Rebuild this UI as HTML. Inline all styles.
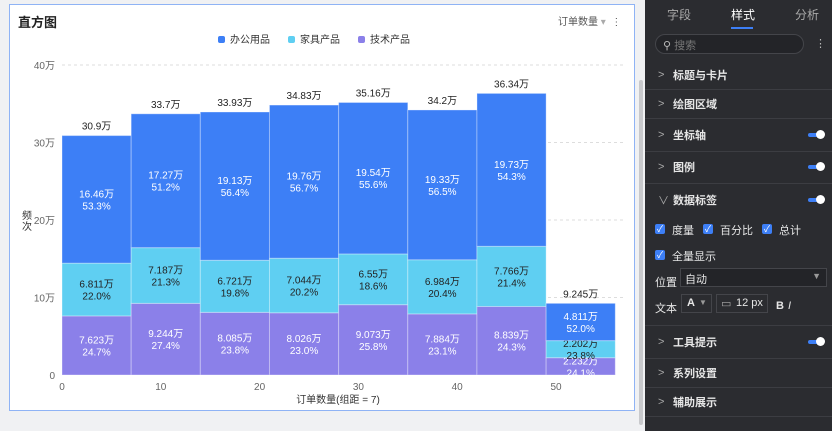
<!DOCTYPE html>
<html><head><meta charset="utf-8"><style>
body{margin:0;width:832px;height:431px;overflow:hidden;background:#f0f1f3;font-family:"Liberation Sans","Noto Sans CJK SC",sans-serif;position:relative}
#card{position:absolute;left:9px;top:4px;width:626px;height:407px;background:#fff;border:1px solid #8fb3f5;box-sizing:border-box}
#panel{position:absolute;left:645px;top:0;width:187px;height:431px;background:#2b2c30;color:#e6e6e6;font-size:11px}
.row{position:absolute;left:0;width:187px;border-bottom:1px solid #3c3d42;height:30px}
.row span.t{position:absolute;left:28px;top:50%;transform:translateY(-50%);font-weight:bold}
.row span.c{position:absolute;left:13px;top:50%;transform:translateY(-50%);color:#aaa}
.tg{position:absolute;right:10px;top:50%;margin-top:-2px;width:14px;height:4px;border-radius:2px;background:#3d7ff6}
.tg:after{content:"";position:absolute;right:-3px;top:-3px;width:9px;height:9px;border-radius:50%;background:#fff}
.cb{position:absolute;width:10px;height:10px;background:#3d7ff6;border-radius:2px;color:#fff;font-size:9px;line-height:10px;text-align:center}
.lbl{position:absolute;font-size:11px}
</style></head><body>
<div id="card">
<div style="position:absolute;left:8px;top:7px;font-size:13px;font-weight:bold;color:#222">直方图</div>
<div style="position:absolute;left:548px;top:8px;font-size:10px;color:#555">订单数量 <span style="color:#aaa">▾</span> &nbsp;⋮</div>
</div>
<svg id="chart" width="832" height="431" style="position:absolute;left:0;top:0"></svg>
<div style="position:absolute;left:639px;top:80px;width:4px;height:345px;background:#c8c9cc;border-radius:2px"></div>
<div id="panel">
<div style="position:absolute;left:22px;top:6px;font-size:12px;color:#aaa">字段</div>
<div style="position:absolute;left:86px;top:6px;font-size:12px;color:#fff">样式</div>
<div style="position:absolute;left:86px;top:27px;width:22px;height:2px;background:#3d7ff6"></div>
<div style="position:absolute;left:150px;top:6px;font-size:12px;color:#aaa">分析</div>
<div style="position:absolute;left:10px;top:34px;width:149px;height:20px;border:1px solid #44454a;border-radius:10px;background:#232428;box-sizing:border-box"><span style="position:absolute;left:7px;top:2px;color:#bbb">⚲ <span style="color:#777">搜索</span></span></div>
<div style="position:absolute;left:170px;top:37px;color:#bbb">⋮</div>
<div class="row" style="top:60px;height:29px"><span class="c">&gt;</span><span class="t">标题与卡片</span></div>
<div class="row" style="top:89px;height:29px"><span class="c">&gt;</span><span class="t">绘图区域</span></div>
<div class="row" style="top:118px;height:33px"><span class="c">&gt;</span><span class="t">坐标轴</span><div class="tg"></div></div>
<div class="row" style="top:151px;height:32px"><span class="c">&gt;</span><span class="t">图例</span><div class="tg"></div></div>
<div class="row" style="top:183px;height:142px"><span class="c" style="top:17px">∨</span><span class="t" style="top:17px">数据标签</span><div class="tg" style="top:17px"></div>
<div class="cb" style="left:10px;top:41px">✓</div><span class="lbl" style="left:27px;top:39px">度量</span>
<div class="cb" style="left:58px;top:41px">✓</div><span class="lbl" style="left:75px;top:39px">百分比</span>
<div class="cb" style="left:117px;top:41px">✓</div><span class="lbl" style="left:134px;top:39px">总计</span>
<div class="cb" style="left:10px;top:67px">✓</div><span class="lbl" style="left:27px;top:65px">全量显示</span>
<span class="lbl" style="left:10px;top:91px">位置</span>
<div style="position:absolute;left:35px;top:85px;width:147px;height:19px;border:1px solid #44454a;background:#232428;box-sizing:border-box"><span style="position:absolute;left:4px;top:2px">自动</span><span style="position:absolute;right:5px;top:2px;color:#999;font-size:9px">▼</span></div>
<span class="lbl" style="left:10px;top:117px">文本</span>
<div style="position:absolute;left:36px;top:111px;width:31px;height:19px;border:1px solid #44454a;box-sizing:border-box"><span style="position:absolute;left:5px;top:2px;font-weight:bold">A</span><span style="position:absolute;left:17px;top:3px;font-size:8px;color:#999">▼</span></div>
<div style="position:absolute;left:71px;top:111px;width:52px;height:19px;border:1px solid #44454a;box-sizing:border-box"><span style="position:absolute;left:4px;top:2px;color:#aaa">▭</span><span style="position:absolute;left:19px;top:2px">12 px</span></div>
<span class="lbl" style="left:131px;top:117px;font-weight:bold">B</span>
<span class="lbl" style="left:143px;top:117px;font-style:italic">I</span>
</div>
<div class="row" style="top:325px;height:33px"><span class="c">&gt;</span><span class="t">工具提示</span><div class="tg"></div></div>
<div class="row" style="top:358px;height:29px"><span class="c">&gt;</span><span class="t">系列设置</span></div>
<div class="row" style="top:387px;height:29px"><span class="c">&gt;</span><span class="t">辅助展示</span></div>
</div>
<script>
const binStarts=[0,7,14,21,28,35,42,49];
const binWidth=7;
const office=[16.46,17.27,19.13,19.76,19.54,19.33,19.73,4.811];
const furniture=[6.811,7.187,6.721,7.044,6.55,6.984,7.766,2.202];
const tech=[7.623,9.244,8.085,8.026,9.073,7.884,8.839,2.232];
const totals=[30.9,33.7,33.93,34.83,35.16,34.2,36.34,9.245];
const yTicks=[0,10,20,30,40];
const xTicks=[0,10,20,30,40,50];
const seriesNames=['办公用品','家具产品','技术产品'];
const svg=document.getElementById('chart');const NS='http://www.w3.org/2000/svg';
const X=v=>62+v*9.88;const Y=v=>375-v*7.75;
function el(t,a,txt){const e=document.createElementNS(NS,t);for(const k in a)e.setAttribute(k,a[k]);if(txt!=null)e.textContent=txt;svg.appendChild(e);return e;}
yTicks.forEach(v=>{
 if(v>0){const g=el('line',{x1:62,x2:626,y1:Y(v),y2:Y(v),stroke:'#ddd','stroke-dasharray':'3,3'});
 
 }
 const t=el('text',{x:55,y:Y(v)+4,'text-anchor':'end','font-size':10,fill:'#666'},v===0?'0':v+'万');
 
 
});
xTicks.forEach(v=>{const t=el('text',{x:X(v),y:390,'text-anchor':'middle','font-size':10,fill:'#666'},String(v));
 
 });
const colors=['#3d7ff6','#5fcff2','#8b80e9'];
const txtCol=['#fff','#222','#fff'];
binStarts.forEach((s,i)=>{
 const x0=X(s),w=X(s+binWidth)-X(s);
 const segs=[[tech[i],2],[furniture[i],1],[office[i],0]];
 let base=0;const sum=office[i]+furniture[i]+tech[i];
 segs.forEach(([v,ci])=>{
  const r=el('rect',{x:x0,y:Y(base+v),width:w,height:Y(base)-Y(base+v),fill:colors[ci],stroke:'#ffffff55','stroke-width':1});
  
  
  const cy=(Y(base)+Y(base+v))/2;
  const t1=el('text',{x:x0+w/2,y:cy-2,'text-anchor':'middle','font-size':10,fill:txtCol[ci]},v+'万');
  
  
  const t2=el('text',{x:x0+w/2,y:cy+10,'text-anchor':'middle','font-size':10,fill:txtCol[ci]},(v/sum*100).toFixed(1)+'%');
  
  
  base+=v;
 });
 const tt=el('text',{x:x0+w/2,y:Y(totals[i])-6,'text-anchor':'middle','font-size':10,fill:'#222'},totals[i]+'万');
 
 
});
const xt=el('text',{x:338,y:403,'text-anchor':'middle','font-size':10,fill:'#333'},'订单数量(组距 = 7)');


const yt1=el('text',{x:27,y:219,'text-anchor':'middle','font-size':10,fill:'#333'},'频');


const yt2=el('text',{x:27,y:230,'text-anchor':'middle','font-size':10,fill:'#333'},'次');


[218,288,358].forEach((lx,i)=>{
 const d=el('rect',{x:lx,y:36,width:7,height:7,rx:2,fill:colors[i]});
 
 
 const t=el('text',{x:lx+12,y:43,'font-size':10,fill:'#333'},seriesNames[i]);
 
 
});
</script>
</body></html>
